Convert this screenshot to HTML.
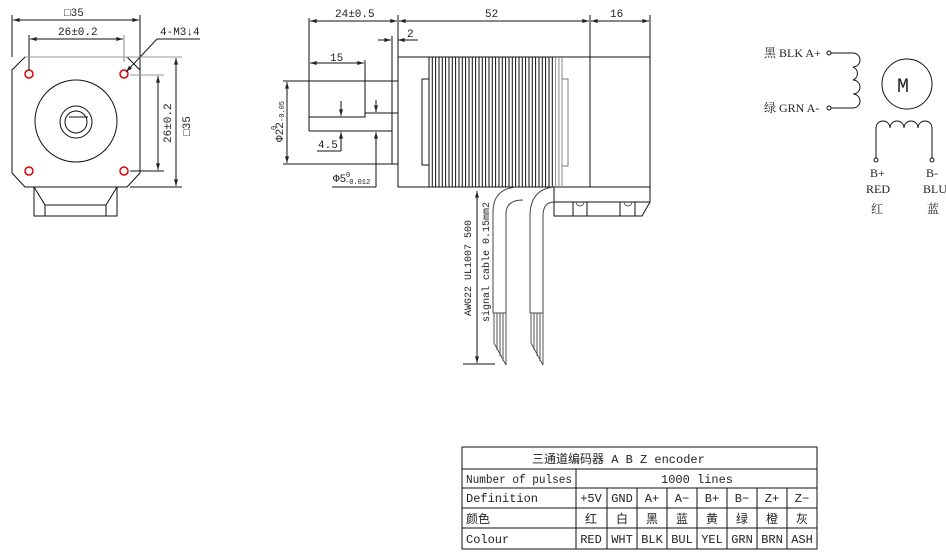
<!DOCTYPE html>
<html><head><meta charset="utf-8"><style>
html,body{margin:0;padding:0;background:#fff;}
svg{display:block;}
text{font-family:"Liberation Mono","Noto Sans CJK SC",monospace;fill:#222;}
.t{font-family:"Liberation Serif","Noto Serif CJK SC",serif;}
</style></head><body>
<svg width="946" height="556" viewBox="0 0 946 556" xmlns="http://www.w3.org/2000/svg">
<defs>
<marker id="a" viewBox="0 0 10 6" refX="10" refY="3" markerWidth="8" markerHeight="4" orient="auto-start-reverse"><path d="M0,0 L10,3 L0,6 z" fill="#222"/></marker>
</defs>
<g stroke="#111" stroke-width="1" fill="none">
<!-- FRONT VIEW -->
<path d="M25,57 H127 L140,70 V173 L127,187 H25 L12,173 V70 Z"/>
<circle cx="76" cy="121" r="41"/>
<circle cx="76" cy="122" r="16"/>
<circle cx="76" cy="122" r="11"/>
<line x1="69" y1="117" x2="88" y2="117"/>
<g stroke="#d00" stroke-width="1.5">
<circle cx="29" cy="74" r="4"/><circle cx="124" cy="74" r="4"/>
<circle cx="29" cy="171" r="4"/><circle cx="124" cy="171" r="4"/>
</g>
<path d="M34,187 V216 H117 V187 M34,187 L45,205 H106 L117,187 M45,205 V216 M106,205 V216"/>
<line x1="12" y1="15" x2="12" y2="57"/><line x1="140" y1="15" x2="140" y2="70"/>
<line x1="13" y1="20" x2="139" y2="20" marker-start="url(#a)" marker-end="url(#a)"/>
<line x1="29" y1="35" x2="29" y2="70"/><line x1="124" y1="35" x2="124" y2="62" stroke="#888"/>
<line x1="30" y1="39" x2="123" y2="39" marker-start="url(#a)" marker-end="url(#a)"/>
<path d="M126,72 L157,39 H200" marker-start="url(#a)"/>
<line x1="25" y1="57" x2="182" y2="57" stroke="#999"/><line x1="130" y1="187" x2="182" y2="187"/>
<line x1="176" y1="58" x2="176" y2="186" marker-start="url(#a)" marker-end="url(#a)"/>
<line x1="130" y1="75" x2="164" y2="75" stroke="#999"/><line x1="130" y1="171" x2="164" y2="171"/>
<line x1="158" y1="76" x2="158" y2="170" marker-start="url(#a)" marker-end="url(#a)"/>
<!-- SIDE VIEW -->
<rect x="398" y="57" width="252" height="130"/>
<line x1="590" y1="15" x2="590" y2="187"/>
<line x1="398" y1="15" x2="398" y2="57"/><line x1="650" y1="15" x2="650" y2="57"/>
<line x1="309" y1="18" x2="309" y2="131"/>
<line x1="310" y1="21" x2="397" y2="21" marker-start="url(#a)" marker-end="url(#a)"/>
<line x1="399" y1="21" x2="589" y2="21" marker-start="url(#a)" marker-end="url(#a)"/>
<line x1="591" y1="21" x2="649" y2="21" marker-start="url(#a)" marker-end="url(#a)"/>
<line x1="378" y1="40" x2="391" y2="40" marker-end="url(#a)"/>
<line x1="398" y1="40" x2="418" y2="40" marker-start="url(#a)"/>
<line x1="392" y1="36" x2="392" y2="164"/>
<line x1="310" y1="63" x2="364" y2="63" marker-start="url(#a)" marker-end="url(#a)"/>
<path d="M365,60 V117 H309 M365,113 H398 M309,131 H392"/>
<line x1="283" y1="81" x2="398" y2="81"/><line x1="283" y1="164" x2="398" y2="164"/>
<line x1="287" y1="82" x2="287" y2="163" marker-start="url(#a)" marker-end="url(#a)"/>
<line x1="341" y1="101" x2="341" y2="116" marker-end="url(#a)"/>
<line x1="341" y1="132" x2="341" y2="151" marker-start="url(#a)"/>
<line x1="317" y1="151" x2="341" y2="151"/>
<line x1="376" y1="100" x2="376" y2="112" marker-end="url(#a)"/>
<line x1="376" y1="132" x2="376" y2="187" marker-start="url(#a)"/>
<line x1="332" y1="187" x2="376" y2="187"/>
<rect x="422" y="79" width="7" height="86"/>
<rect x="562" y="79" width="6" height="87" stroke="#777"/>
<path d="M429,57 V187 M432.3,57 V187 M435.6,57 V187 M439,57 V187 M442.3,57 V187 M445.6,57 V187 M449,57 V187 M452.3,57 V187 M455.6,57 V187 M459,57 V187 M462.3,57 V187 M465.6,57 V187 M469,57 V187 M472.3,57 V187 M475.6,57 V187 M479,57 V187 M482.3,57 V187 M485.6,57 V187 M489,57 V187 M492.3,57 V187 M495.6,57 V187 M499,57 V187 M502.3,57 V187 M505.6,57 V187 M509,57 V187 M512.3,57 V187 M515.6,57 V187 M519,57 V187 M522.3,57 V187 M525.6,57 V187 M529,57 V187 M532.3,57 V187 M535.6,57 V187 M539,57 V187 M542.3,57 V187 M545.6,57 V187 M549,57 V187 M552.3,57 V187"/>
<path d="M555.6,57 V187 M558.9,57 V187 M562,57 V187" stroke="#888"/>
<!-- encoder -->
<path d="M554,187 V216 H642 L650,202 V187 M554,202 H650 M573,202 V216 M587,202 V216 M620,202 V216 M635,202 V216"/>
<path d="M576,202 A4,4 0 0 0 584,202 M624,202 A4,4 0 0 0 632,202" stroke="#555"/>
<!-- cables -->
<path d="M493,313 V212 Q493,189 516,187 M506,313 V214 Q506,200 523,200 M530,313 V216 Q530,190 553,187 M543,313 V216 Q543,202 554,202" stroke="#444"/>
<path d="M493,313 H506 M530,313 H543" stroke="#444"/>
<path d="M494,313 V343 L506,365 M497,313 V350 M500,313 V356 M503,313 V361 M506,313 V365" stroke="#555"/>
<path d="M531,313 V343 L543,365 M534,313 V350 M537,313 V356 M540,313 V361 M543,313 V365" stroke="#555"/>
<line x1="477" y1="191" x2="477" y2="363" marker-start="url(#a)" marker-end="url(#a)"/>
<line x1="463" y1="364" x2="495" y2="364"/>
<!-- schematic -->
<circle cx="829" cy="53" r="2"/><circle cx="829" cy="108" r="2"/>
<path d="M831,53 H853 A7,7 0 0 1 853,67 A7,7 0 0 1 853,80 A7,7 0 0 1 853,94 A7,7 0 0 1 853,108 H831"/>
<circle cx="907" cy="84" r="25"/>
<path d="M876,158 V128 A7,7 0 0 1 890,128 A7,7 0 0 1 904,128 A7,7 0 0 1 918,128 A7,7 0 0 1 932,128 V158"/>
<circle cx="876" cy="160" r="2"/><circle cx="932" cy="160" r="2"/>
<!-- table -->
<rect x="462" y="447" width="355" height="102"/>
<path d="M462,469 H817 M462,488 H817 M462,508 H817 M462,528 H817 M576,469 V549 M607,488 V549 M637,488 V549 M667,488 V549 M697,488 V549 M727,488 V549 M757,488 V549 M787,488 V549"/>
</g>
<g font-size="11">
<text x="64" y="16">□35</text>
<text x="58" y="35">26±0.2</text>
<text x="160" y="35">4-M3↓4</text>
<text transform="translate(190,136) rotate(-90)">□35</text>
<text transform="translate(171,143) rotate(-90)">26±0.2</text>
<text x="335" y="17">24±0.5</text>
<text x="485" y="17">52</text>
<text x="610" y="17">16</text>
<text x="407" y="37">2</text>
<text x="330" y="61">15</text>
<text x="318" y="148">4.5</text>
<text x="333" y="182">Φ5</text><text x="346" y="177" font-size="7">0</text><text x="345" y="184" font-size="7">-0.012</text>
<text transform="translate(283,142) rotate(-90)" fill="#8a5a20">Φ22</text>
<text transform="translate(276,130) rotate(-90)" font-size="7" fill="#8a5a20">0</text>
<text transform="translate(284,122) rotate(-90)" font-size="7" fill="#8a5a20">-0.05</text>
<text transform="translate(471,316) rotate(-90)" font-size="10" fill="#8a5a20">AWG22 UL1007 500</text>
<text transform="translate(489,322) rotate(-90)" font-size="10" fill="#5a4a6a">signal cable 0.15mm2</text>
<text x="764" y="57" class="t" font-size="12">黑 BLK A+</text>
<text x="764" y="112" class="t" font-size="12">绿 GRN A-</text>
<text x="897" y="92" font-size="20" font-family="Liberation Sans" fill="#333">M</text>
<text x="870" y="177" class="t" font-size="12">B+</text>
<text x="866" y="193" class="t" font-size="12">RED</text>
<text x="871" y="213" class="t" font-size="12">红</text>
<text x="926" y="177" class="t" font-size="12">B-</text>
<text x="923" y="193" class="t" font-size="12">BLU</text>
<text x="927" y="213" class="t" font-size="12">蓝</text>
<text x="532" y="463" font-size="12">三通道编码器 A B Z encoder</text>
<text x="466" y="483" font-size="12" textLength="106" lengthAdjust="spacingAndGlyphs">Number of pulses</text>
<text x="661" y="483" font-size="12">1000 lines</text>
<text x="466" y="502" font-size="12">Definition</text>
<text x="466" y="523" font-size="12">颜色</text>
<text x="466" y="543" font-size="12">Colour</text>
<g class="t" font-size="12" text-anchor="middle">
<text x="591" y="502">+5V</text><text x="622" y="502">GND</text><text x="652" y="502">A+</text><text x="682" y="502">A−</text><text x="712" y="502">B+</text><text x="742" y="502">B−</text><text x="772" y="502">Z+</text><text x="802" y="502">Z−</text>
<text x="591" y="523">红</text><text x="622" y="523">白</text><text x="652" y="523">黑</text><text x="682" y="523">蓝</text><text x="712" y="523">黄</text><text x="742" y="523">绿</text><text x="772" y="523">橙</text><text x="802" y="523">灰</text>
<text x="591" y="543">RED</text><text x="622" y="543">WHT</text><text x="652" y="543">BLK</text><text x="682" y="543">BUL</text><text x="712" y="543">YEL</text><text x="742" y="543">GRN</text><text x="772" y="543">BRN</text><text x="802" y="543">ASH</text>
</g>
</g>
</svg>
</body></html>
